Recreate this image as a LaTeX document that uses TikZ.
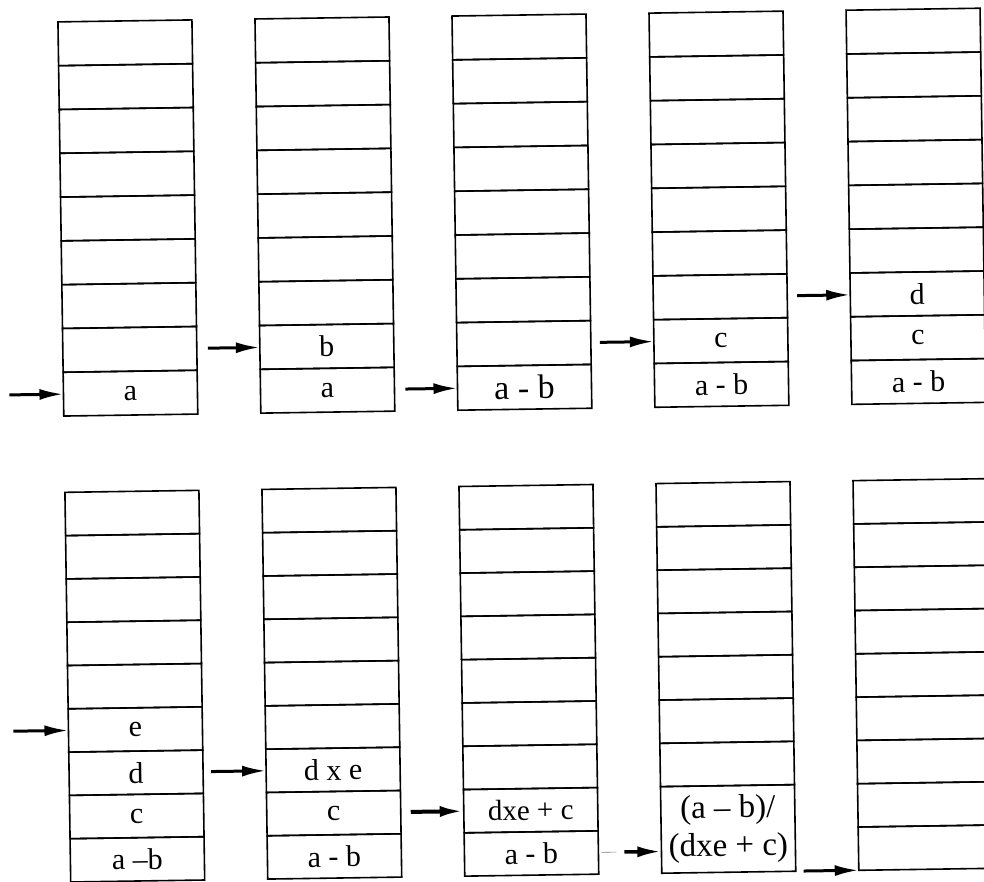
\documentclass[tikz,border=0pt]{standalone}
\usepackage{fontspec}
\setmainfont{Liberation Serif}
\usetikzlibrary{arrows.meta}
\begin{document}
\begin{tikzpicture}[x=1pt,y=-1pt,
  cell/.style={draw, line width=1.6pt, minimum width=134pt, minimum height=#1, inner sep=0pt, outer sep=0pt},
  lbl/.style={font=\fontsize{30}{34}\selectfont, inner sep=0pt},
  big/.style={font=\fontsize{34}{38}\selectfont, inner sep=0pt},
  mid/.style={font=\fontsize{29}{34}\selectfont, inner sep=0pt},
  two/.style={font=\fontsize{33}{38}\selectfont, inner sep=0pt, align=center},
  ptr/.style={line width=3pt, -{Latex[length=24pt,width=11pt]}}]
\clip (0,0) rectangle (984,882);
\begin{scope}[rotate around={0.85:(492,441)}, transform shape]
  % top row
  \foreach \s/\x in {1/64.2, 2/261.25, 3/458.3, 4/655.35, 5/852.4} {
    \foreach \k in {1,...,9} {
      \node[cell=43.8pt] (s\s-\k) at (\x+67, 15.5+9.5*43.8-\k*43.8) {};
    }
  }
  % bottom row
  \foreach \s/\x in {6/64.2, 7/261.25, 8/458.3, 10/852.4} {
    \foreach \k in {1,...,9} {
      \node[cell=43.3pt] (s\s-\k) at (\x+67, 486+9.5*43.3-\k*43.3) {};
    }
  }
  \node[cell=86.6pt] (s9-1) at (655.35+67, 486+8*43.3) {};
  \foreach \k in {2,...,8} {
    \node[cell=43.3pt] (s9-\k) at (655.35+67, 486+9.5*43.3-\k*43.3-43.3) {};
  }
  % labels
  \node[lbl] (l1a) at (s1-1) {a};
  \node[lbl] (l2a) at (s2-1) {a};
  \node[lbl] (l2b) at (s2-2) {b};
  \node[big] (l3a) at (s3-1) {a - b};
  \node[lbl] (l4a) at (s4-1) {a - b};
  \node[lbl] (l4c) at (s4-2) {c};
  \node[lbl] (l5a) at (s5-1) {a - b};
  \node[lbl] (l5c) at (s5-2) {c};
  \node[lbl] (l5d) at (s5-3) {d};
  \node[lbl] (l6a) at (s6-1) {a –b};
  \node[lbl] (l6c) at (s6-2) {c};
  \node[lbl] (l6d) at (s6-3) {d};
  \node[lbl] (l6e) at (s6-4) {e};
  \node[lbl] (l7a) at (s7-1) {a - b};
  \node[lbl] (l7c) at (s7-2) {c};
  \node[lbl] (l7d) at (s7-3) {d x e};
  \node[lbl] (l8a) at (s8-1) {a - b};
  \node[mid] (l8d) at (s8-2) {dxe + c};
  \node[two] (l9a) at (s9-1) {(a – b)/\\(dxe + c)};
  % pointers
  \coordinate (t1) at ([xshift=-54pt]s1-1.west);
  \draw[ptr] (t1) -- (s1-1.west);
  \coordinate (t2) at ([xshift=-52pt]s2-2.west);
  \draw[ptr] (t2) -- (s2-2.west);
  \coordinate (t3) at ([xshift=-52pt]s3-1.west);
  \draw[ptr] (t3) -- (s3-1.west);
  \coordinate (t4) at ([xshift=-54pt]s4-2.west);
  \draw[ptr] (t4) -- (s4-2.west);
  \coordinate (t5) at ([xshift=-53pt]s5-3.west);
  \draw[ptr] (t5) -- (s5-3.west);
  \coordinate (t6) at ([xshift=-55pt]s6-4.west);
  \draw[ptr] (t6) -- (s6-4.west);
  \coordinate (t7) at ([xshift=-55pt]s7-3.west);
  \draw[ptr] (t7) -- (s7-3.west);
  \coordinate (t8) at ([xshift=-53pt]s8-2.west);
  \draw[ptr, line width=4pt] (t8) -- (s8-2.west);
  \coordinate (e9) at ([yshift=-21.65pt]s9-1.west);
  \coordinate (t9) at ([xshift=-37pt]e9);
  \coordinate (g9a) at ([xshift=-60pt]e9);
  \coordinate (g9b) at ([xshift=-45pt]e9);
  \draw[line width=0.6pt, gray] (g9a) -- (g9b);
  \draw[ptr, line width=3.5pt] (t9) -- (e9);
  \coordinate (t10) at ([xshift=-55pt]s10-1.south west);
  \draw[ptr] (t10) -- (s10-1.south west);
\end{scope}
\end{tikzpicture}
\end{document}
